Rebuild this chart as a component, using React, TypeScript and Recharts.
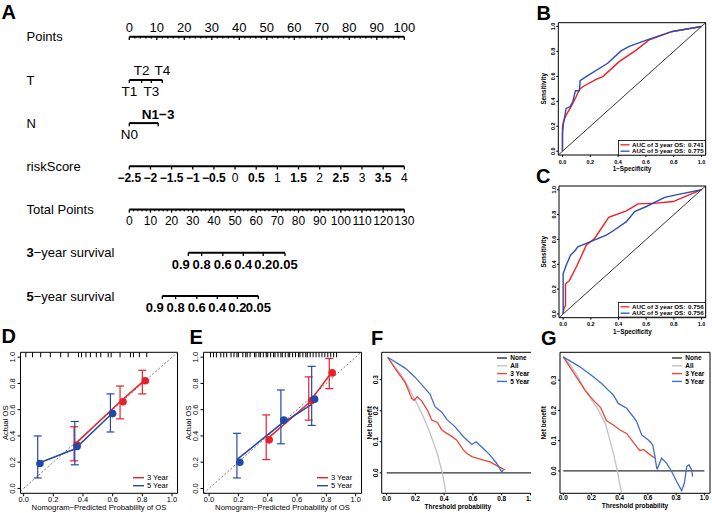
import React from 'react';
import {
  LineChart,
  ComposedChart,
  Line,
  Scatter,
  XAxis,
  YAxis,
  ReferenceArea,
  ReferenceLine,
  ErrorBar,
  Legend,
} from 'recharts';

const FONT = 'Arial, "Liberation Sans", Helvetica, sans-serif';

// ---------------- Panel A : nomogram ----------------
const ROW_NAMES = ['Points', 'T', 'N', 'riskScore', 'Total Points', '3−year survival', '5−year survival'];
const POINTS_LABELS = [0, 10, 20, 30, 40, 50, 60, 70, 80, 90, 100];
const T_LEVELS = ['T1', 'T2', 'T3', 'T4'];
const T_POINTS = [0, 4.5, 8, 12];
const N_LEVELS = ['N0', 'N1−3'];
const N_POINTS = [0, 10.5];
const RISK_LABELS = [-2.5, -2, -1.5, -1, -0.5, 0, 0.5, 1, 1.5, 2, 2.5, 3, 3.5, 4];
const TOTAL_LABELS = [0, 10, 20, 30, 40, 50, 60, 70, 80, 90, 100, 110, 120, 130];
const SURV_LABELS = ['0.9', '0.8', '0.6', '0.4', '0.2', '0.05'];
const SURV3_TOTAL = [27.9, 34.2, 44.2, 53.9, 63.3, 73.6];
const SURV5_TOTAL = [15.6, 21.9, 31.9, 41.6, 51.1, 61.0];

// ---------------- Panel B / C : ROC ----------------
const B3_FPR = [0, 0, 0.007, 0.026, 0.062, 0.086, 0.098, 0.122, 0.146, 0.242, 0.29, 0.41, 0.53, 0.62, 0.79, 1];
const B3_TPR = [0, 0.196, 0.236, 0.29, 0.357, 0.41, 0.437, 0.496, 0.517, 0.576, 0.598, 0.72, 0.81, 0.89, 0.96, 1];
const B5_FPR = [0, 0, 0.007, 0.026, 0.055, 0.074, 0.093, 0.122, 0.127, 0.17, 0.325, 0.421, 0.48, 0.624, 0.79, 1];
const B5_TPR = [0, 0.14, 0.22, 0.343, 0.357, 0.397, 0.485, 0.485, 0.566, 0.598, 0.705, 0.804, 0.84, 0.898, 0.96, 1];
const AUC_B = ['0.741', '0.775'];

const C3_FPR = [0, 0.005, 0.017, 0.017, 0.046, 0.101, 0.167, 0.227, 0.329, 0.457, 0.541, 0.674, 0.795, 1];
const C3_TPR = [0, 0.04, 0.07, 0.243, 0.27, 0.392, 0.554, 0.608, 0.778, 0.83, 0.886, 0.892, 0.905, 1];
const C5_FPR = [0, 0, 0.022, 0.053, 0.082, 0.106, 0.167, 0.312, 0.36, 0.457, 0.517, 0.601, 0.734, 0.843, 1];
const C5_TPR = [0, 0.324, 0.392, 0.473, 0.505, 0.54, 0.568, 0.635, 0.668, 0.743, 0.824, 0.865, 0.938, 0.965, 1];
const AUC_C = ['0.756', '0.756'];
const ROC_NAMES = ['AUC of 3 year OS:', 'AUC of 5 year OS:'];

// ---------------- Panel D / E : calibration ----------------
const D3_ERR_X = [0.34, 0.65, 0.8];
const D3_MID = [0.33, 0.66, 0.81];
const D3_LO = [0.21, 0.53, 0.72];
const D3_HI = [0.47, 0.78, 0.9];
const D3_DOT_X = [0.36, 0.67, 0.82];
const D3_DOT_Y = [0.33, 0.66, 0.82];
const D5_ERR_X = [0.095, 0.345, 0.585];
const D5_MID = [0.19, 0.3, 0.56];
const D5_LO = [0.08, 0.18, 0.43];
const D5_HI = [0.4, 0.51, 0.72];
const D5_DOT_X = [0.11, 0.36, 0.6];
const D5_DOT_Y = [0.19, 0.32, 0.57];
const D_RUG = [0.015, 0.06, 0.115, 0.18, 0.25, 0.3, 0.37, 0.39, 0.42, 0.45, 0.49, 0.52, 0.57, 0.59, 0.65, 0.72, 0.74, 0.78, 0.83];

const E3_ERR_X = [0.39, 0.68, 0.82];
const E3_MID = [0.37, 0.65, 0.86];
const E3_LO = [0.22, 0.52, 0.76];
const E3_HI = [0.56, 0.85, 0.99];
const E3_DOT_X = [0.41, 0.7, 0.84];
const E3_DOT_Y = [0.37, 0.67, 0.88];
const E5_ERR_X = [0.19, 0.49, 0.7];
const E5_MID = [0.22, 0.49, 0.64];
const E5_LO = [0.08, 0.34, 0.48];
const E5_HI = [0.42, 0.75, 0.93];
const E5_DOT_X = [0.21, 0.51, 0.72];
const E5_DOT_Y = [0.2, 0.52, 0.68];
const E_RUG = [0.01, 0.03, 0.05, 0.08, 0.1, 0.12, 0.15, 0.17, 0.19, 0.2, 0.23, 0.25, 0.26, 0.28, 0.31, 0.32, 0.34, 0.35, 0.37, 0.39, 0.4, 0.42, 0.44, 0.45, 0.47, 0.49, 0.5, 0.52, 0.54, 0.55, 0.57, 0.59, 0.61, 0.62, 0.64, 0.66, 0.67, 0.69, 0.71, 0.73, 0.75, 0.77, 0.79, 0.81, 0.83, 0.85, 0.87];
const CAL_NAMES = ['3 Year', '5 Year'];

// ---------------- Panel F / G : decision curves ----------------
const DCA_NAMES = ['None', 'All', '3 Year', '5 Year'];
const F_NONE_T = [0, 1.02];
const F_NONE_NB = [0, 0];
const F_ALL_T = [0.007, 0.05, 0.1, 0.15, 0.2, 0.25, 0.3, 0.35, 0.387, 0.413];
const F_ALL_NB = [0.372, 0.345, 0.315, 0.278, 0.232, 0.185, 0.13, 0.065, 0, -0.066];
const F3_T = [0.007, 0.06, 0.128, 0.174, 0.19, 0.213, 0.244, 0.283, 0.313, 0.353, 0.383, 0.418, 0.45, 0.487, 0.534, 0.56, 0.592, 0.638, 0.673, 0.719, 0.766, 0.812, 0.824];
const F3_NB = [0.372, 0.335, 0.291, 0.24, 0.233, 0.245, 0.231, 0.202, 0.17, 0.162, 0.138, 0.127, 0.118, 0.105, 0.073, 0.062, 0.052, 0.046, 0.041, 0.035, 0.023, 0.012, 0.011];
const F5_T = [0.007, 0.128, 0.197, 0.26, 0.302, 0.336, 0.383, 0.418, 0.476, 0.534, 0.592, 0.622, 0.673, 0.719, 0.766, 0.8, 0.812];
const F5_NB = [0.372, 0.337, 0.308, 0.275, 0.253, 0.213, 0.195, 0.172, 0.148, 0.116, 0.091, 0.1, 0.078, 0.057, 0.03, 0.003, 0.009];

const G_NONE_T = [0, 1];
const G_NONE_NB = [0, 0];
const G_ALL_T = [0, 0.05, 0.1, 0.154, 0.2, 0.25, 0.3, 0.34, 0.36, 0.383, 0.414];
const G_ALL_NB = [0.377, 0.35, 0.315, 0.267, 0.235, 0.2, 0.155, 0.085, 0.05, 0, -0.074];
const G3_T = [0, 0.154, 0.213, 0.265, 0.307, 0.355, 0.402, 0.449, 0.485, 0.52, 0.544, 0.567, 0.603, 0.65];
const G3_NB = [0.377, 0.267, 0.234, 0.209, 0.166, 0.152, 0.135, 0.124, 0.102, 0.08, 0.067, 0.071, 0.058, 0.042];
const G5_T = [0, 0.118, 0.213, 0.272, 0.319, 0.355, 0.39, 0.449, 0.496, 0.52, 0.556, 0.603, 0.634, 0.65, 0.662, 0.667, 0.697, 0.733, 0.768, 0.804, 0.839, 0.858, 0.875, 0.891, 0.91, 0.917];
const G5_NB = [0.377, 0.344, 0.311, 0.289, 0.267, 0.251, 0.223, 0.207, 0.179, 0.163, 0.119, 0.102, 0.086, 0.047, 0.009, 0.007, 0.042, 0.025, -0.002, -0.035, -0.065, -0.041, 0.014, 0.02, 0.003, -0.019];

// ---------------- colours ----------------
const RED_ROC = '#f01e22';
const BLUE_ROC = '#2a4fb0';
const RED_CAL = '#e8202a';
const BLUE_CAL = '#2249a8';
const RED_DCA = '#e5493b';
const BLUE_DCA = '#3f6fc7';
const GRAY_DCA = '#c2c2c2';
const NONE_DCA = '#333333';

// ---------------- helpers ----------------
const zip = (xs: number[], ys: number[]) => xs.map((x, i) => ({ x, y: ys[i] }));
const calLine = (xs: number[], mid: number[], lo: number[], hi: number[]) =>
  xs.map((x, i) => ({ x, y: mid[i], err: [mid[i] - lo[i], hi[i] - mid[i]] }));
const fmtSigned = (v: number) => (v < 0 ? '−' + Math.abs(v) : String(v));
const orderBy = (names: string[]) => (item: any) => {
  const i = names.indexOf(item && item.value);
  return i < 0 ? 99 : i;
};

type NRow = { v: number; row: number; label: string; major: boolean; k: number };
const rowData = (row: number, major: number[], labels: string[], minor: number[] = []): NRow[] =>
  [
    ...major.map((v, k) => ({ v, row, label: labels[k], major: true, k })),
    ...minor.map((v) => ({ v, row, label: '', major: false, k: -1 })),
  ].sort((a, b) => a.v - b.v);

const POINTS_MINOR = Array.from({ length: 51 }, (_, i) => i * 2).filter((v) => !POINTS_LABELS.includes(v));
const TOTAL_MINOR = Array.from({ length: 66 }, (_, i) => i * 2).filter((v) => !TOTAL_LABELS.includes(v));

const pointsRow = rowData(0, POINTS_LABELS, POINTS_LABELS.map(String), POINTS_MINOR);
const tRow = rowData(1, T_POINTS, T_LEVELS);
const nRow = rowData(2, N_POINTS, N_LEVELS);
const riskRow = rowData(3, RISK_LABELS, RISK_LABELS.map(fmtSigned));
const totalRow = rowData(4, TOTAL_LABELS, TOTAL_LABELS.map(String), TOTAL_MINOR);
const surv3Row = rowData(5, SURV3_TOTAL, SURV_LABELS);
const surv5Row = rowData(6, SURV5_TOTAL, SURV_LABELS);

type RowStyle = {
  mode: 'above' | 'below' | 'alt';
  fs: number;
  bold?: (s: string) => boolean;
  firstEnd?: boolean;
  below?: number;
};

const makeNomoDot = (st: RowStyle) => (p: any) => {
  const { cx, cy, payload, index } = p;
  if (cx == null || cy == null) return <g key={`d${index}`} />;
  const len = payload.major ? 3.2 : 1.8;
  let text: React.ReactNode = null;
  if (payload.label) {
    const above = st.mode === 'above' || (st.mode === 'alt' && payload.k % 2 === 1);
    const ty = above ? cy - 4.5 : cy + (st.below ?? 15.8);
    const isFirst = st.firstEnd && payload.k === 0;
    text = (
      <text
        x={isFirst ? cx + 1.5 : cx}
        y={ty}
        textAnchor={isFirst ? 'end' : 'middle'}
        fontSize={st.fs}
        fontWeight={st.bold && st.bold(payload.label) ? 'bold' : 'normal'}
        fontFamily={FONT}
        fill="#000"
      >
        {payload.label}
      </text>
    );
  }
  return (
    <g key={`d${index}`}>
      <line x1={cx} y1={cy} x2={cx} y2={cy + len} stroke="#000" strokeWidth={1.3} />
      {text}
    </g>
  );
};

const RowLabel = (p: any) => {
  const name: string = ROW_NAMES[p.payload.value] ?? '';
  const m = name.match(/^(\d)(.*)$/);
  return (
    <text x={26.5} y={p.y} dy="0.36em" fontSize={13} fontFamily={FONT} fill="#000">
      {m ? (
        <>
          <tspan fontWeight="bold">{m[1]}</tspan>
          <tspan>{m[2]}</tspan>
        </>
      ) : (
        name
      )}
    </text>
  );
};

function Nomogram() {
  const lineProps = { stroke: '#000', strokeWidth: 2, isAnimationActive: false, legendType: 'none' as const, activeDot: false };
  return (
    <div style={{ position: 'absolute', left: 0, top: 0 }}>
      <LineChart width={440} height={320} margin={{ top: 36.7, right: 35.7, bottom: 24.1, left: 0 }}>
        <XAxis xAxisId="pts" type="number" dataKey="v" domain={[0, 100]} hide />
        <XAxis xAxisId="risk" type="number" dataKey="v" domain={[-2.5, 4]} hide />
        <XAxis xAxisId="tot" type="number" dataKey="v" domain={[0, 130]} hide />
        <YAxis
          type="number"
          dataKey="row"
          domain={[0, 6]}
          reversed
          width={129.3}
          ticks={[0, 1, 2, 3, 4, 5, 6]}
          interval={0}
          tick={RowLabel}
          axisLine={false}
          tickLine={false}
        />
        <Line xAxisId="pts" data={pointsRow} dataKey="row" {...lineProps} dot={makeNomoDot({ mode: 'above', fs: 13 })} />
        <Line xAxisId="pts" data={tRow} dataKey="row" {...lineProps} dot={makeNomoDot({ mode: 'alt', fs: 13.5 })} />
        <Line
          xAxisId="pts"
          data={nRow}
          dataKey="row"
          {...lineProps}
          dot={makeNomoDot({ mode: 'alt', fs: 13.5, bold: (s) => s !== 'N0' })}
        />
        <Line
          xAxisId="risk"
          data={riskRow}
          dataKey="row"
          {...lineProps}
          dot={makeNomoDot({ mode: 'below', fs: 12, bold: (s) => s.includes('.') || s.includes('−'), below: 15.4 })}
        />
        <Line xAxisId="tot" data={totalRow} dataKey="row" {...lineProps} dot={makeNomoDot({ mode: 'below', fs: 12, below: 15 })} />
        <Line
          xAxisId="tot"
          data={surv3Row}
          dataKey="row"
          {...lineProps}
          dot={makeNomoDot({ mode: 'below', fs: 13, bold: () => true, firstEnd: true, below: 16.5 })}
        />
        <Line
          xAxisId="tot"
          data={surv5Row}
          dataKey="row"
          {...lineProps}
          dot={makeNomoDot({ mode: 'below', fs: 13, bold: () => true, firstEnd: true, below: 16.5 })}
        />
      </LineChart>
    </div>
  );
}

// ---------------- framed R-style panel ----------------
type Cfg = {
  box: { left: number; top: number; width: number; height: number };
  plot: { x0: number; y0: number; x1: number; y1: number };
  xDomain: [number, number];
  yDomain: [number, number];
  xTicks: number[];
  yTicks: number[];
  tickFs: number;
  tickFw: 'bold' | 'normal';
  titleFs: number;
  titleFw: 'bold' | 'normal';
  yTickSize: number;
  yTickMargin: number;
  xTickSize: number;
  xTickMargin: number;
  xTitle: string;
  yTitle: string;
  xTitleBaseline: number;
  yTitleCenter: number;
  bg?: string;
};

const rotTick = (fs: number, fw: string) => (p: any) => (
  <text
    x={p.x}
    y={p.y}
    transform={`rotate(-90 ${p.x} ${p.y})`}
    textAnchor="middle"
    fontSize={fs}
    fontWeight={fw}
    fontFamily={FONT}
    fill="#000"
  >
    {Number(p.payload.value).toFixed(1)}
  </text>
);

function Panel({ cfg, children }: { cfg: Cfg; children?: React.ReactNode }) {
  const { box, plot } = cfg;
  const yw = plot.x0 - box.left;
  const xh = box.top + box.height - plot.y1;
  const margin = { top: plot.y0 - box.top, right: box.left + box.width - plot.x1, bottom: 0, left: 0 };
  const titleStyle: any = { fontSize: cfg.titleFs, fontWeight: cfg.titleFw, fill: '#000', fontFamily: FONT };
  return (
    <div
      style={{
        position: 'absolute',
        left: box.left,
        top: box.top,
        width: box.width,
        height: box.height,
        background: cfg.bg,
      }}
    >
      <ComposedChart width={box.width} height={box.height} margin={margin}>
        <XAxis
          type="number"
          dataKey="x"
          domain={cfg.xDomain}
          ticks={cfg.xTicks}
          interval={0}
          height={xh}
          allowDataOverflow
          axisLine={false}
          tickSize={cfg.xTickSize}
          tickMargin={cfg.xTickMargin}
          tickFormatter={(v: number) => Number(v).toFixed(1)}
          tick={{ fontSize: cfg.tickFs, fontWeight: cfg.tickFw, fill: '#000', fontFamily: FONT }}
          tickLine={{ stroke: '#000' }}
          label={{
            value: cfg.xTitle,
            position: 'insideBottom',
            offset: box.top + box.height - cfg.xTitleBaseline,
            style: titleStyle,
          }}
        />
        <YAxis
          type="number"
          dataKey="y"
          domain={cfg.yDomain}
          ticks={cfg.yTicks}
          interval={0}
          width={yw}
          allowDataOverflow
          axisLine={false}
          tickSize={cfg.yTickSize}
          tickMargin={cfg.yTickMargin}
          tick={rotTick(cfg.tickFs, cfg.tickFw)}
          tickLine={{ stroke: '#000' }}
          label={{
            value: cfg.yTitle,
            angle: -90,
            position: 'insideLeft',
            offset: cfg.yTitleCenter - box.left,
            style: { ...titleStyle, textAnchor: 'middle' },
          }}
        />
        {children}
        <ReferenceArea
          x1={cfg.xDomain[0]}
          x2={cfg.xDomain[1]}
          y1={cfg.yDomain[0]}
          y2={cfg.yDomain[1]}
          fill="none"
          fillOpacity={0}
          stroke="#000"
          strokeWidth={1}
          ifOverflow="visible"
        />
      </ComposedChart>
    </div>
  );
}

const UNIT_TICKS = [0, 0.2, 0.4, 0.6, 0.8, 1];
const ROC_DOMAIN: [number, number] = [-0.03, 1.03];

const rocLegend = (names: string[], auc: string[]) => (props: any) => {
  const items = (props.payload || []) as any[];
  return (
    <svg width={88} height={15.5} style={{ display: 'block', overflow: 'visible' }}>
      <rect x={0.4} y={0.4} width={87.2} height={14.7} fill="#fff" stroke="#000" strokeWidth={0.8} />
      {items.map((e, i) => {
        const y = 4.8 + i * 6.4;
        return (
          <g key={i}>
            <line x1={2.5} x2={11.5} y1={y} y2={y} stroke={e.color} strokeWidth={1.3} />
            <text x={14} y={y} dy="0.35em" fontSize={6.2} fontWeight="bold" fontFamily={FONT} fill="#000">
              {e.value}
            </text>
            <text x={85.6} y={y} dy="0.35em" textAnchor="end" fontSize={6.2} fontWeight="bold" fontFamily={FONT} fill="#000">
              {auc[names.indexOf(e.value)] ?? ''}
            </text>
          </g>
        );
      })}
    </svg>
  );
};

const simpleLegend = (o: { fs: number; fw: string; lx0: number; lx1: number; tx: number; y0: number; dy: number; w: number; h: number }) =>
  (props: any) => {
    const items = (props.payload || []) as any[];
    return (
      <svg width={o.w} height={o.h} style={{ display: 'block', overflow: 'visible' }}>
        {items.map((e, i) => {
          const y = o.y0 + i * o.dy;
          return (
            <g key={i}>
              <line x1={o.lx0} x2={o.lx1} y1={y} y2={y} stroke={e.color} strokeWidth={1.4} />
              <text x={o.tx} y={y} dy="0.35em" fontSize={o.fs} fontWeight={o.fw} fontFamily={FONT} fill="#000">
                {e.value}
              </text>
            </g>
          );
        })}
      </svg>
    );
  };

const dotShape = (color: string, r: number) => (p: any) => <circle cx={p.cx} cy={p.cy} r={r} fill={color} />;
const rugShape = (len: number) => (p: any) => (
  <line x1={p.cx} y1={p.cy} x2={p.cx} y2={p.cy + len} stroke="#000" strokeWidth={1} />
);

// ---------------- configs ----------------
const B_CFG: Cfg = {
  box: { left: 536, top: 0, width: 176, height: 175 },
  plot: { x0: 558.3, y0: 22.7, x1: 705.7, y1: 155 },
  xDomain: ROC_DOMAIN,
  yDomain: ROC_DOMAIN,
  xTicks: UNIT_TICKS,
  yTicks: UNIT_TICKS,
  tickFs: 5.5,
  tickFw: 'bold',
  titleFs: 6.3,
  titleFw: 'bold',
  yTickSize: 2,
  yTickMargin: 1,
  xTickSize: 2,
  xTickMargin: 3,
  xTitle: '1−Specificity',
  yTitle: 'Sensitivity',
  xTitleBaseline: 170.5,
  yTitleCenter: 543.3,
};

const C_CFG: Cfg = {
  ...B_CFG,
  box: { left: 536, top: 176, width: 176, height: 160 },
  plot: { x0: 559, y0: 186, x1: 705.7, y1: 317.7 },
  xTickMargin: 2.6,
  xTitleBaseline: 334,
  yTitleCenter: 544,
};

const CAL_X_D: [number, number] = [-0.021, 1.037];
const CAL_X_E: [number, number] = [-0.038, 1.04];
const CAL_Y: [number, number] = [-0.037, 1.037];

const D_CFG: Cfg = {
  box: { left: 0, top: 345, width: 182, height: 168 },
  plot: { x0: 20.5, y0: 352.3, x1: 177.5, y1: 493.3 },
  xDomain: CAL_X_D,
  yDomain: CAL_Y,
  xTicks: UNIT_TICKS,
  yTicks: UNIT_TICKS,
  tickFs: 7.5,
  tickFw: 'normal',
  titleFs: 7.7,
  titleFw: 'normal',
  yTickSize: 3,
  yTickMargin: 2,
  xTickSize: 3,
  xTickMargin: 0.3,
  xTitle: 'Nomogram−Predicted Probability of OS',
  yTitle: 'Actual OS',
  xTitleBaseline: 509.5,
  yTitleCenter: 5,
};

const E_CFG: Cfg = {
  ...D_CFG,
  box: { left: 182, top: 345, width: 182, height: 168 },
  plot: { x0: 203.5, y0: 352.3, x1: 361.5, y1: 493.3 },
  xDomain: CAL_X_E,
  yTitleCenter: 188,
};

const DCA_Y_TICKS = [0, 0.1, 0.2, 0.3];

const F_CFG: Cfg = {
  box: { left: 364, top: 345, width: 176, height: 168 },
  plot: { x0: 381.7, y0: 352.3, x1: 534, y1: 493.3 },
  xDomain: [-0.035, 1.025],
  yDomain: [-0.066, 0.388],
  xTicks: UNIT_TICKS,
  yTicks: DCA_Y_TICKS,
  tickFs: 6.5,
  tickFw: 'bold',
  titleFs: 6.5,
  titleFw: 'bold',
  yTickSize: 2,
  yTickMargin: 1.4,
  xTickSize: 2,
  xTickMargin: 0.8,
  xTitle: 'Threshold probability',
  yTitle: 'Net benefit',
  xTitleBaseline: 508.5,
  yTitleCenter: 370,
};

const G_CFG: Cfg = {
  ...F_CFG,
  box: { left: 531, top: 345, width: 181, height: 168 },
  plot: { x0: 560, y0: 352.3, x1: 710, y1: 493.3 },
  xDomain: [-0.023, 1.04],
  yDomain: [-0.074, 0.392],
  yTickMargin: 2.4,
  xTickMargin: 0.5,
  xTitleBaseline: 507.5,
  yTitleCenter: 544,
  bg: '#fff',
};

const diag = (xd: [number, number], yd: [number, number]) => {
  const lo = Math.max(xd[0], yd[0]);
  const hi = Math.min(xd[1], yd[1]);
  return [
    { x: lo, y: lo },
    { x: hi, y: hi },
  ];
};

function RocPanel({ cfg, r3, r5, auc, legendPos }: { cfg: Cfg; r3: any[]; r5: any[]; auc: string[]; legendPos: { left: number; top: number } }) {
  return (
    <Panel cfg={cfg}>
      <ReferenceLine segment={diag(cfg.xDomain, cfg.yDomain)} stroke="#000" strokeWidth={0.8} ifOverflow="visible" />
      <Line data={r3} dataKey="y" name={ROC_NAMES[0]} stroke={RED_ROC} strokeWidth={1.4} dot={false} activeDot={false} isAnimationActive={false} />
      <Line data={r5} dataKey="y" name={ROC_NAMES[1]} stroke={BLUE_ROC} strokeWidth={1.4} dot={false} activeDot={false} isAnimationActive={false} />
      <Legend
        layout="horizontal"
        verticalAlign="middle"
        align="center"
        itemSorter={orderBy(ROC_NAMES)}
        content={rocLegend(ROC_NAMES, auc)}
        wrapperStyle={{ left: legendPos.left, top: legendPos.top, width: 88, height: 15.5 }}
      />
    </Panel>
  );
}

function CalPanel(props: {
  cfg: Cfg;
  l3: any[];
  l5: any[];
  d3: any[];
  d5: any[];
  rug: number[];
  legendLeft: number;
}) {
  const { cfg, l3, l5, d3, d5, rug, legendLeft } = props;
  const rugData = rug.map((x) => ({ x, y: cfg.yDomain[1] }));
  return (
    <Panel cfg={cfg}>
      <ReferenceLine
        segment={diag(cfg.xDomain, cfg.yDomain)}
        stroke="#555"
        strokeWidth={0.8}
        strokeDasharray="2 2"
        ifOverflow="visible"
      />
      <Scatter data={rugData} shape={rugShape(5)} legendType="none" isAnimationActive={false} />
      <Line data={l3} dataKey="y" name={CAL_NAMES[0]} stroke={RED_CAL} strokeWidth={1.5} dot={false} activeDot={false} isAnimationActive={false}>
        <ErrorBar dataKey="err" direction="y" width={4} stroke={RED_CAL} strokeWidth={1.2} />
      </Line>
      <Line data={l5} dataKey="y" name={CAL_NAMES[1]} stroke={BLUE_CAL} strokeWidth={1.5} dot={false} activeDot={false} isAnimationActive={false}>
        <ErrorBar dataKey="err" direction="y" width={4} stroke={BLUE_CAL} strokeWidth={1.2} />
      </Line>
      <Scatter data={d3} shape={dotShape(RED_CAL, 3.8)} legendType="none" isAnimationActive={false} />
      <Scatter data={d5} shape={dotShape(BLUE_CAL, 3.8)} legendType="none" isAnimationActive={false} />
      <Legend
        layout="horizontal"
        verticalAlign="middle"
        align="center"
        itemSorter={orderBy(CAL_NAMES)}
        content={simpleLegend({ fs: 7.5, fw: 'normal', lx0: 3, lx1: 14, tx: 17, y0: 5.7, dy: 8, w: 52, h: 20 })}
        wrapperStyle={{ left: legendLeft, top: 127, width: 52, height: 20 }}
      />
    </Panel>
  );
}

function DcaPanel(props: { cfg: Cfg; none: any[]; all: any[]; s3: any[]; s5: any[]; legendLeft: number }) {
  const { cfg, none, all, s3, s5, legendLeft } = props;
  const common = { dataKey: 'y', dot: false, activeDot: false, isAnimationActive: false, strokeWidth: 1.3 } as const;
  return (
    <Panel cfg={cfg}>
      <Line data={none} name={DCA_NAMES[0]} stroke={NONE_DCA} {...common} />
      <Line data={all} name={DCA_NAMES[1]} stroke={GRAY_DCA} {...common} />
      <Line data={s3} name={DCA_NAMES[2]} stroke={RED_DCA} {...common} />
      <Line data={s5} name={DCA_NAMES[3]} stroke={BLUE_DCA} {...common} />
      <Legend
        layout="horizontal"
        verticalAlign="middle"
        align="center"
        itemSorter={orderBy(DCA_NAMES)}
        content={simpleLegend({ fs: 6.5, fw: 'bold', lx0: 2, lx1: 12, tx: 15.3, y0: 4, dy: 7.8, w: 45, h: 32 })}
        wrapperStyle={{ left: legendLeft, top: 9.3, width: 45, height: 32 }}
      />
    </Panel>
  );
}

const LETTERS = [
  { ch: 'A', x: 1.5, y: 18.5 },
  { ch: 'B', x: 536.5, y: 20 },
  { ch: 'C', x: 536, y: 183 },
  { ch: 'D', x: 1.5, y: 343 },
  { ch: 'E', x: 189.5, y: 344 },
  { ch: 'F', x: 371, y: 345 },
  { ch: 'G', x: 541, y: 345 },
];

export default function App() {
  return (
    <div
      style={{
        position: 'absolute',
        left: 0,
        top: 0,
        width: 712,
        height: 513,
        background: '#fff',
        overflow: 'hidden',
        fontFamily: FONT,
      }}
    >
      <Nomogram />
      <RocPanel cfg={B_CFG} r3={zip(B3_FPR, B3_TPR)} r5={zip(B5_FPR, B5_TPR)} auc={AUC_B} legendPos={{ left: 81.7, top: 140 }} />
      <RocPanel cfg={C_CFG} r3={zip(C3_FPR, C3_TPR)} r5={zip(C5_FPR, C5_TPR)} auc={AUC_C} legendPos={{ left: 82.3, top: 126 }} />
      <CalPanel
        cfg={D_CFG}
        l3={calLine(D3_ERR_X, D3_MID, D3_LO, D3_HI)}
        l5={calLine(D5_ERR_X, D5_MID, D5_LO, D5_HI)}
        d3={zip(D3_DOT_X, D3_DOT_Y)}
        d5={zip(D5_DOT_X, D5_DOT_Y)}
        rug={D_RUG}
        legendLeft={130}
      />
      <CalPanel
        cfg={E_CFG}
        l3={calLine(E3_ERR_X, E3_MID, E3_LO, E3_HI)}
        l5={calLine(E5_ERR_X, E5_MID, E5_LO, E5_HI)}
        d3={zip(E3_DOT_X, E3_DOT_Y)}
        d5={zip(E5_DOT_X, E5_DOT_Y)}
        rug={E_RUG}
        legendLeft={131.7}
      />
      <DcaPanel
        cfg={F_CFG}
        none={zip(F_NONE_T, F_NONE_NB)}
        all={zip(F_ALL_T, F_ALL_NB)}
        s3={zip(F3_T, F3_NB)}
        s5={zip(F5_T, F5_NB)}
        legendLeft={130.7}
      />
      <DcaPanel
        cfg={G_CFG}
        none={zip(G_NONE_T, G_NONE_NB)}
        all={zip(G_ALL_T, G_ALL_NB)}
        s3={zip(G3_T, G3_NB)}
        s5={zip(G5_T, G5_NB)}
        legendLeft={138.7}
      />
      <svg width={712} height={513} style={{ position: 'absolute', left: 0, top: 0, pointerEvents: 'none' }}>
        {LETTERS.map((l) => (
          <text key={l.ch} x={l.x} y={l.y} fontSize={20} fontWeight="bold" fontFamily={FONT} fill="#000">
            {l.ch}
          </text>
        ))}
      </svg>
    </div>
  );
}
